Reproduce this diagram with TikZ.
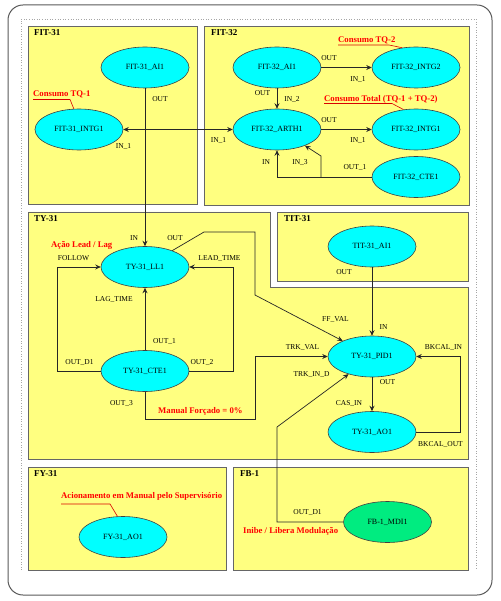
\documentclass[tikz,border=0pt]{standalone}
\usepackage{fontspec}
\setmainfont{Liberation Serif}
\usetikzlibrary{arrows.meta,shapes.geometric}
\definecolor{panelfill}{RGB}{255,255,128}
\definecolor{nodecyan}{RGB}{0,255,255}
\definecolor{nodegreen}{RGB}{0,236,128}
\definecolor{annred}{RGB}{255,0,0}
\begin{document}
\begin{tikzpicture}[x=1pt,y=-1pt,
  panel/.style={draw=black!60,fill=panelfill,line width=0.8pt},
  blk/.style={ellipse,draw=black!75,fill=nodecyan,line width=0.6pt,minimum width=88pt,minimum height=41pt,inner sep=0pt,font=\fontsize{8}{9}\selectfont},
  portlbl/.style={font=\fontsize{7.5}{9}\selectfont,inner sep=0pt},
  ttl/.style={font=\bfseries\fontsize{9}{10}\selectfont,anchor=west,inner sep=0pt},
  ann/.style={font=\bfseries\fontsize{8.7}{10}\selectfont,text=annred,anchor=west,inner sep=0pt},
  leader/.style={draw=annred!85!black,line width=0.6pt},
  wire/.style={draw=black!85,line width=0.7pt},
  arr/.style={wire,-{Stealth[length=5.5pt,width=5pt,inset=2pt]}}
]
\useasboundingbox (0,0) rectangle (500,601);
% outer frame
\draw[black!65,line width=1pt,rounded corners=15pt] (8,5) rectangle (492,595);
\draw[black!35,dotted,line width=0.6pt] (21,570) -- (21,19) -- (476,19) -- (476,570);
% panels
\path[panel] (28,26) rectangle (197,204);
\path[panel] (204,26) rectangle (469,205);
\path[panel] (28,212) -- (270,212) -- (270,287) -- (468,287) -- (468,459) -- (28,459) -- cycle;
\path[panel] (277,212) rectangle (468,281);
\path[panel] (28,467) rectangle (226,570);
\path[panel] (233,467) rectangle (468,570);
% panel titles
\node[ttl] (t1) at (34,33) {FIT-31};
\node[ttl] (t2) at (211,33) {FIT-32};
\node[ttl] (t3) at (34,218.5) {TY-31};
\node[ttl] (t4) at (284,218.5) {TIT-31};
\node[ttl] (t5) at (34,473.5) {FY-31};
\node[ttl] (t6) at (240,473.5) {FB-1};
% blocks
\node[blk] (fai) at (145,67.5) {FIT-31\_AI1};
\node[blk] (fintg) at (79,129.5) {FIT-31\_INTG1};
\node[blk] (gai) at (277,67.5) {FIT-32\_AI1};
\node[blk] (gintg2) at (416,67.5) {FIT-32\_INTG2};
\node[blk] (garth) at (277,129.5) {FIT-32\_ARTH1};
\node[blk] (gintg1) at (416,129.5) {FIT-32\_INTG1};
\node[blk] (gcte) at (416,177) {FIT-32\_CTE1};
\node[blk] (ll) at (145,267) {TY-31\_LL1};
\node[blk] (cte) at (145,371) {TY-31\_CTE1};
\node[blk] (tai) at (372,246.5) {TIT-31\_AI1};
\node[blk] (pid) at (372,356.5) {TY-31\_PID1};
\node[blk] (ao) at (372,432) {TY-31\_AO1};
\node[blk] (fyao) at (123,537) {FY-31\_AO1};
\node[blk,fill=nodegreen] (mdi) at (387.5,522) {FB-1\_MDI1};
% junction / bend coordinates
\coordinate (j1) at (145,129.5);
\coordinate (j2) at (321,177);
\coordinate (j2b) at (321,156);
\coordinate (k1) at (204,232);
\coordinate (k2) at (255,232);
\coordinate (k3) at (255,295);
\coordinate (k4) at (233,371);
\coordinate (k5) at (233,267);
\coordinate (k6) at (57,371);
\coordinate (k7) at (57,267);
\coordinate (k8) at (145,419);
\coordinate (k9) at (255,419);
\coordinate (k10) at (255,356.5);
\coordinate (k11) at (460,432);
\coordinate (k12) at (460,356.5);
\coordinate (k13) at (277,522);
\coordinate (k14) at (277,427);
% wires
\draw[arr] (fai.south) -- (ll.north);
\draw[arr] (j1) -- (fintg.east);
\draw[arr] (j1) -- (garth.west);
\draw[arr] (gai.east) -- (gintg2.west);
\draw[arr] (gai.south) -- (garth.north);
\draw[arr] (garth.east) -- (gintg1.west);
\draw[arr] (gcte.west) -- (garth.south |- gcte.west) -- (garth.south);
\draw[arr] (j2) -- (j2b) -- (garth.-30);
\draw[arr] (ll.31) -- (k1) -- (k2) -- (k3) -- (pid.152);
\draw[arr] (cte.east) -- (k4) -- (k5) -- (ll.east);
\draw[arr] (cte.west) -- (k6) -- (k7) -- (ll.west);
\draw[arr] (cte.north) -- (ll.south);
\draw[arr] (cte.south) -- (k8) -- (k9) -- (k10) -- (pid.west);
\draw[arr] (tai.south) -- (pid.north);
\draw[arr] (pid.south) -- (ao.north);
\draw[arr] (ao.east) -- (k11) -- (k12) -- (pid.east);
\draw[arr] (mdi.west) -- (k13) -- (k14) -- (pid.217);
% port labels
\node[portlbl] (p1) at (160,99) {OUT};
\node[portlbl] (p2) at (123.5,147) {IN\_1};
\node[portlbl] (p3) at (329,58.5) {OUT};
\node[portlbl] (p4) at (358,79.5) {IN\_1};
\node[portlbl] (p5) at (262.5,93.5) {OUT};
\node[portlbl] (p6) at (292,99.5) {IN\_2};
\node[portlbl] (p7) at (329,120) {OUT};
\node[portlbl] (p8) at (358,141) {IN\_1};
\node[portlbl] (p9) at (218.5,141) {IN\_1};
\node[portlbl] (p10) at (266,162.5) {IN};
\node[portlbl] (p11) at (300,162.5) {IN\_3};
\node[portlbl] (p12) at (355,168) {OUT\_1};
\node[portlbl] (p13) at (134,238) {IN};
\node[portlbl] (p14) at (175,238) {OUT};
\node[portlbl] (p15) at (73.5,258.5) {FOLLOW};
\node[portlbl] (p16) at (219.5,258.5) {LEAD\_TIME};
\node[portlbl] (p17) at (114,299.5) {LAG\_TIME};
\node[portlbl] (p18) at (164.5,341) {OUT\_1};
\node[portlbl] (p19) at (79.5,362.5) {OUT\_D1};
\node[portlbl] (p20) at (202,362.5) {OUT\_2};
\node[portlbl] (p21) at (121.5,403) {OUT\_3};
\node[portlbl] (p22) at (344,272) {OUT};
\node[portlbl] (p23) at (335.5,320) {FF\_VAL};
\node[portlbl] (p24) at (383.5,327) {IN};
\node[portlbl] (p25) at (302.5,347.5) {TRK\_VAL};
\node[portlbl] (p26) at (443.5,347.5) {BKCAL\_IN};
\node[portlbl] (p27) at (311.5,374.5) {TRK\_IN\_D};
\node[portlbl] (p28) at (387.5,382) {OUT};
\node[portlbl] (p29) at (349,403) {CAS\_IN};
\node[portlbl] (p30) at (440.5,444.5) {BKCAL\_OUT};
\node[portlbl] (p31) at (307.5,512.5) {OUT\_D1};
% annotations
\node[ann] (a1) at (33,94.5) {Consumo TQ-1};
\node[ann] (a2) at (338,40.5) {Consumo TQ-2};
\node[ann] (a3) at (324,99) {Consumo Total (TQ-1 + TQ-2)};
\node[ann] (a4) at (51,245) {Ação Lead / Lag};
\node[ann] (a5) at (158,411.5) {Manual Forçado = 0\%};
\node[ann] (a6) at (61,496.5) {Acionamento em Manual pelo Supervisório};
\node[ann] (a7) at (243,531) {Inibe / Libera Modulação};
\coordinate (u1a) at (33,99.5);
\coordinate (u1b) at (70,99.5);
\coordinate (u2a) at (338,45);
\coordinate (u2b) at (389,45);
\coordinate (u3a) at (324,103.5);
\coordinate (u3b) at (392,103.5);
\coordinate (u6a) at (61,504);
\coordinate (u6b) at (110,504);
\draw[leader] (u1a) -- (u1b) -- (fintg.104);
\draw[leader] (u2a) -- (u2b) -- (gintg2.125);
\draw[leader] (u3a) -- (u3b) -- (gintg1.122);
\draw[leader] (u6a) -- (u6b) -- (fyao.105);
\end{tikzpicture}
\end{document}
